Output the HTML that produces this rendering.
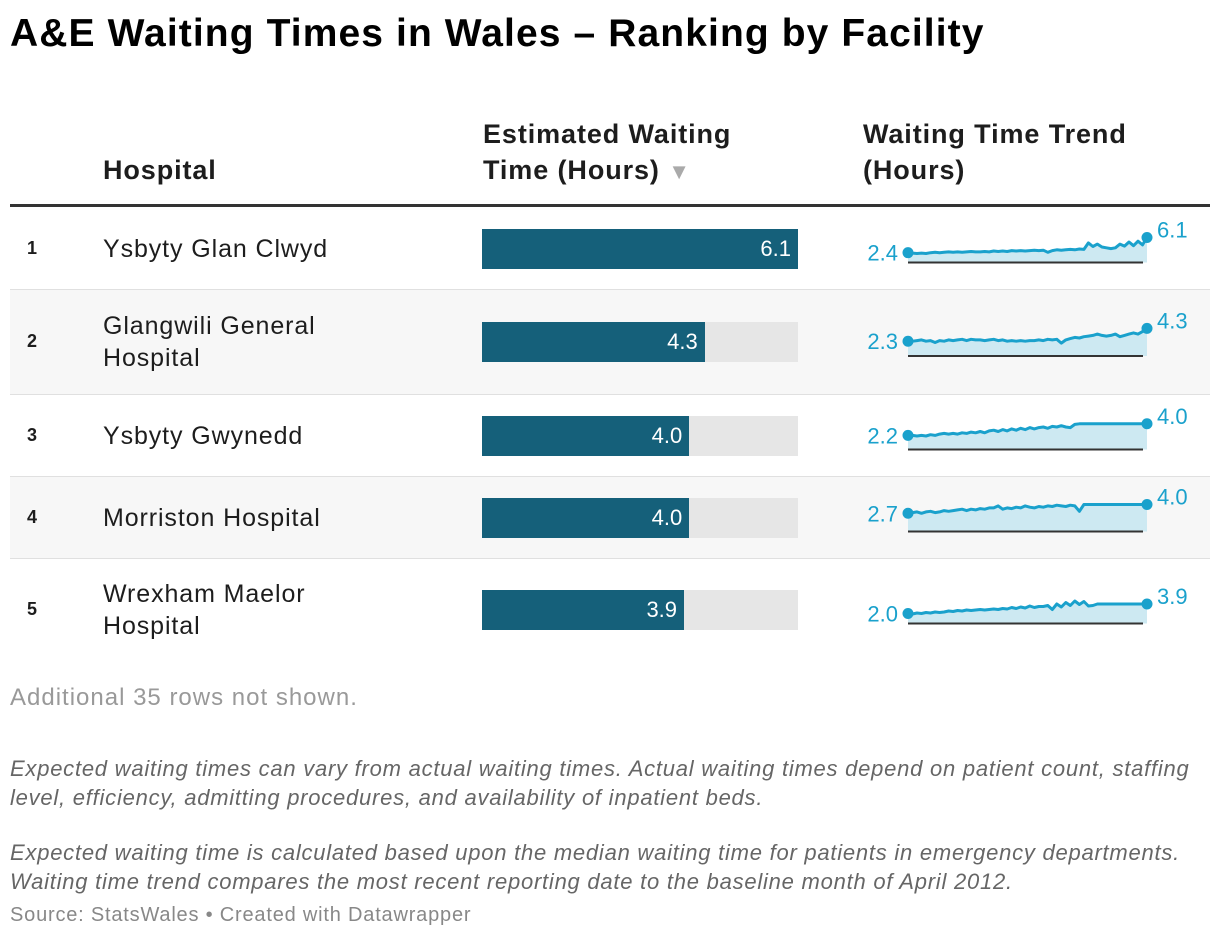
<!DOCTYPE html>
<html><head><meta charset="utf-8"><style>
body{margin:0;background:#fff;font-family:"Liberation Sans",sans-serif;width:1220px;height:940px;position:relative;overflow:hidden;color:#1d1d1d}
.a{position:absolute}
.title{left:10px;top:12px;font-size:39px;font-weight:bold;color:#000;letter-spacing:1.1px;white-space:nowrap}
.hd{font-size:27px;font-weight:bold;line-height:36px;letter-spacing:0.9px}
.row{position:absolute;left:10px;width:1200px}
.rk{position:absolute;left:17px;font-size:18px;font-weight:bold}
.nm{position:absolute;left:93px;font-size:25px;line-height:32px;letter-spacing:0.9px}
.track{position:absolute;left:472px;width:316px;height:40px;background:#e6e6e6}
.bar{position:absolute;left:0;top:0;height:40px;background:#15607a;color:#fff;font-size:22px;text-align:right;line-height:40px;box-sizing:border-box;padding-right:7px}
.note{left:10px;font-size:22px;font-style:italic;color:#666;line-height:29px;letter-spacing:0.76px;white-space:nowrap}
</style></head><body>
<div class="a title">A&amp;E Waiting Times in Wales – Ranking by Facility</div>
<div class="a hd" style="left:103px;top:152px">Hospital</div>
<div class="a hd" style="left:483px;top:116px">Estimated Waiting<br>Time (Hours) <span style="color:#aaa;font-size:22px">▼</span></div>
<div class="a hd" style="left:863px;top:116px">Waiting Time Trend<br>(Hours)</div>
<div class="a" style="left:10px;top:204px;width:1200px;height:3px;background:#333"></div>
<div id="rows"></div>
<div class="a" style="left:10px;top:684px;font-size:24px;color:#999;letter-spacing:1.0px">Additional 35 rows not shown.</div>
<div class="a note" style="top:754px">Expected waiting times can vary from actual waiting times. Actual waiting times depend on patient count, staffing<br>level, efficiency, admitting procedures, and availability of inpatient beds.</div>
<div class="a note" style="top:838px">Expected waiting time is calculated based upon the median waiting time for patients in emergency departments.<br>Waiting time trend compares the most recent reporting date to the baseline month of April 2012.</div>
<div class="a" style="left:10px;top:904px;font-size:20px;color:#888;letter-spacing:0.8px">Source: StatsWales • Created with Datawrapper</div>
<script>
const hospitals=["Ysbyty Glan Clwyd","Glangwili General<br>Hospital","Ysbyty Gwynedd","Morriston Hospital","Wrexham Maelor<br>Hospital"];
const waitTimes=[6.1,4.3,4.0,4.0,3.9];
const waitLabels=["6.1","4.3","4.0","4.0","3.9"];
const startLabels=["2.4","2.3","2.2","2.7","2.0"];
const trend1=[2.4,2.3,2.2,2.3,2.2,2.4,2.5,2.4,2.5,2.6,2.5,2.6,2.5,2.6,2.7,2.6,2.6,2.7,2.6,2.8,2.7,2.8,2.7,2.9,2.8,2.9,2.8,2.9,3.0,2.9,3.0,2.5,2.9,3.1,3.0,3.1,3.2,3.1,3.3,3.2,4.8,3.9,4.5,3.8,3.6,3.4,3.6,4.5,4.0,5.0,4.1,5.2,4.3,6.1];
const trend2=[2.3,2.3,2.4,2.5,2.3,2.4,2.1,2.4,2.3,2.5,2.4,2.5,2.6,2.4,2.6,2.5,2.5,2.4,2.5,2.6,2.4,2.5,2.3,2.4,2.3,2.4,2.3,2.4,2.4,2.5,2.4,2.6,2.5,2.6,2.0,2.5,2.7,2.9,2.8,3.0,3.1,3.2,3.4,3.2,3.1,3.2,3.4,3.0,3.2,3.4,3.6,3.4,3.8,4.3];
const trend3=[2.2,2.2,2.1,2.2,2.1,2.3,2.2,2.4,2.5,2.4,2.5,2.4,2.6,2.5,2.7,2.6,2.8,2.6,2.9,3.0,2.8,3.1,2.9,3.2,3.0,3.3,3.1,3.4,3.2,3.4,3.5,3.3,3.6,3.5,3.7,3.5,3.4,3.9,4.0,4.0,4.0,4.0,4.0,4.0,4.0,4.0,4.0,4.0,4.0,4.0,4.0,4.0,4.0,4.0];
const trend4=[2.7,2.8,2.9,2.7,2.9,3.0,2.8,2.9,3.1,3.0,3.1,3.2,3.3,3.1,3.3,3.2,3.4,3.3,3.5,3.5,3.8,3.3,3.5,3.4,3.6,3.5,3.8,3.6,3.5,3.7,3.6,3.8,3.7,3.9,3.8,3.7,3.9,3.8,3.0,4.0,4.0,4.0,4.0,4.0,4.0,4.0,4.0,4.0,4.0,4.0,4.0,4.0,4.0,4.0];
const trend5=[2.0,1.9,2.1,2.0,2.2,2.1,2.3,2.2,2.3,2.5,2.4,2.6,2.5,2.7,2.6,2.7,2.8,2.7,2.8,2.9,2.8,3.0,2.9,3.2,3.0,3.3,3.1,3.5,3.2,3.4,3.4,3.6,2.8,3.9,3.3,4.2,3.6,4.5,3.8,4.4,3.5,3.6,3.9,3.9,3.9,3.9,3.9,3.9,3.9,3.9,3.9,3.9,3.9,3.9];
const trends=[trend1,trend2,trend3,trend4,trend5];
const trendMax=[6.6,4.2,4.2,4.0,5.4];

const rowTops=[208,290,395,477,559], rowH=[81,104,81,81,101];
const barMax=Math.max(...waitTimes);
const barScale=v=>316*v/barMax;
const SX0=908,SX1=1147,SH=27;
const ns="http://www.w3.org/2000/svg";
const root=document.getElementById('rows');
hospitals.forEach((h,i)=>{
  const r=document.createElement('div');r.className='row';
  
  
  r.style.top=rowTops[i]+'px';r.style.height=rowH[i]+'px';
  r.style.background=i%2?'#f7f7f7':'#fff';
  r.style.borderBottom=i<4?'1px solid #e0e0e0':'none';
  const mid=rowH[i]/2;
  r.innerHTML=`<div class="rk" style="top:${mid-11}px">${i+1}</div>
  <div class="nm" style="top:${mid-(h.includes('<br>')?32:16)}px">${h}</div>
  <div class="track" style="top:${mid-20}px"><div class="bar" style="width:${barScale(waitTimes[i])}px">${waitLabels[i]}</div></div>`;
  const base=rowH[i]/2+14;
  const svg=document.createElementNS(ns,'svg');
  
  
  svg.setAttribute('width',1200);svg.setAttribute('height',rowH[i]);
  svg.style.position='absolute';svg.style.left='0';svg.style.top='0';svg.style.overflow='visible';
  const d=trends[i],n=d.length;
  const x=k=>SX0-10+(SX1-SX0)*k/(n-1);
  const y=v=>base-SH*v/trendMax[i];
  let p=d.map((v,k)=>(k?'L':'M')+x(k).toFixed(1)+','+y(v).toFixed(1)).join('');
  const area=document.createElementNS(ns,'path');
  area.setAttribute('d',p+`L${x(n-1)},${base}L${x(0)},${base}Z`);
  area.setAttribute('fill','#cde9f2');
  
  
  svg.appendChild(area);
  const ax=document.createElementNS(ns,'line');
  ax.setAttribute('x1',x(0));ax.setAttribute('x2',x(n-1)-4);ax.setAttribute('y1',base);ax.setAttribute('y2',base);
  ax.setAttribute('stroke','#333');ax.setAttribute('stroke-width','2');
  
  
  svg.appendChild(ax);
  const ln=document.createElementNS(ns,'path');
  ln.setAttribute('d',p);ln.setAttribute('fill','none');ln.setAttribute('stroke','#1aa1cc');ln.setAttribute('stroke-width','3');ln.setAttribute('stroke-linejoin','round');
  
  
  svg.appendChild(ln);
  [[0,startLabels[i],'end',-10],[n-1,waitLabels[i],'start',10]].forEach(([k,t,anc,dx])=>{
    const c=document.createElementNS(ns,'circle');
    c.setAttribute('cx',x(k));c.setAttribute('cy',y(d[k]));c.setAttribute('r',5.5);c.setAttribute('fill','#1aa1cc');
    
    
    svg.appendChild(c);
    const tx=document.createElementNS(ns,'text');
    tx.setAttribute('x',x(k)+dx);tx.setAttribute('y',y(d[k])+(k?0:8));
    tx.setAttribute('text-anchor',anc);tx.setAttribute('fill','#1aa1cc');tx.setAttribute('font-size','22');
    tx.setAttribute('font-family','Liberation Sans, sans-serif');
    
    
    tx.textContent=t;svg.appendChild(tx);
  });
  r.appendChild(svg);
  root.appendChild(r);
});
</script>
</body></html>
